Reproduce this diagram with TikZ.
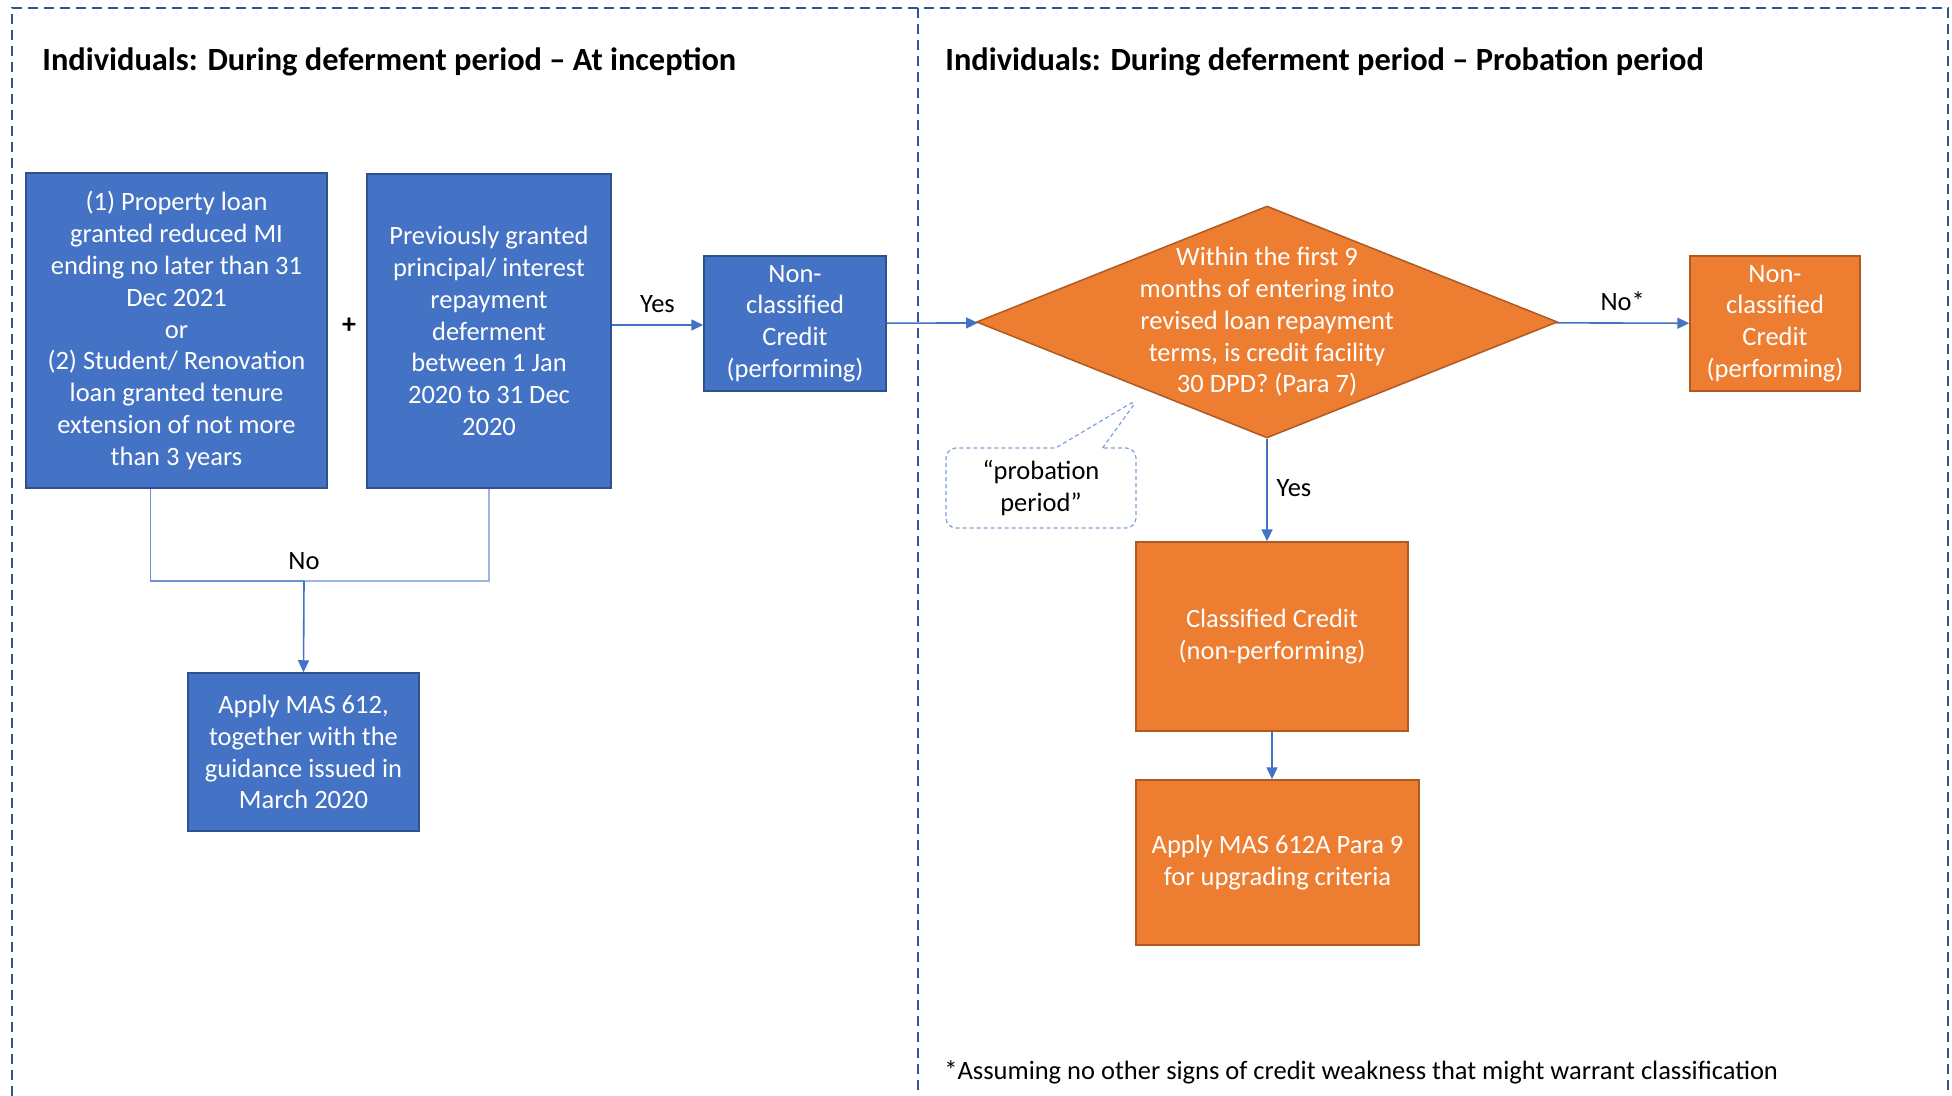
\documentclass[tikz,border=0pt]{standalone}
\usepackage{fontspec}
\setmainfont{Carlito}
\usetikzlibrary{calc,arrows.meta,shapes.geometric,shapes.callouts}

\definecolor{boxblue}{HTML}{4472C4}
\definecolor{boxblueline}{HTML}{2F528F}
\definecolor{boxorange}{HTML}{ED7D31}
\definecolor{boxorangeline}{HTML}{AE5A21}
\definecolor{framecol}{HTML}{2F5597}
\definecolor{midlink}{HTML}{6F91D3}
\definecolor{lightlink}{HTML}{9DB5E2}
\definecolor{calloutcol}{HTML}{7F9FDA}

\begin{document}
\begin{tikzpicture}[x=0.5pt,y=-0.5pt,
                text node/.style={font=\fontsize{13.25}{15.9}\selectfont,align=center,inner sep=0pt,text=black},
                blue node/.style={text node,rectangle,draw=boxblueline,fill=boxblue,text=white,line width=0.75pt},
                orange node/.style={text node,rectangle,draw=boxorangeline,fill=boxorange,text=white,line width=0.75pt},
                title node/.style={font=\fontsize{16.2}{19}\selectfont\bfseries,inner sep=0pt,anchor=west},
                frame line/.style={draw=framecol,line width=0.75pt,dash pattern=on 5pt off 3pt},
                link/.style={color=boxblue,line width=0.8pt,-{Triangle[length=6pt,width=5.5pt]}},
                plain link/.style={line width=0.8pt}]
	\useasboundingbox (0,0) rectangle (1952,1096);

	% dashed frame of the two panels
	\draw[frame line] (12,1096) -- (12,8) -- (1948,8) -- (1948,1096);
	\draw[frame line] (918,8) -- (918,1096);

	\node[title node] (lefttitle) at (42,62) {Individuals: During deferment period – At inception};
	\node[title node] (righttitle) at (945,62) {Individuals: During deferment period – Probation period};

	% left panel
	\node[blue node,minimum width=150.5pt,minimum height=157.5pt] (1) at (176.5,330.5)
		{(1) Property loan\\granted reduced MI\\ending no later than 31\\Dec 2021\\or\\(2) Student/ Renovation\\loan granted tenure\\extension of not more\\than 3 years};
	\node[blue node,minimum width=122pt,minimum height=157pt] (2) at (489,331)
		{Previously granted\\principal/ interest\\repayment\\deferment\\between 1 Jan\\2020 to 31 Dec\\2020};
	\node[text node,font=\fontsize{14}{16}\selectfont\bfseries] (plus) at (349,326) {+};
	\node[blue node,minimum width=91pt,minimum height=67.5pt] (3) at (795,323.5)
		{Non-\\classified\\Credit\\(performing)};
	\node[blue node,minimum width=115.5pt,minimum height=79pt] (7) at (303.5,752)
		{Apply MAS 612,\\together with the\\guidance issued in\\March 2020};
	\coordinate (nojoin) at (304,581);

	% right panel
	\node[orange node,diamond,inner xsep=-25pt,inner ysep=-5pt,aspect=2.5,
		minimum width=290.5pt,minimum height=116pt] (4) at (1267,322)
		{Within the first 9\\months of entering into\\revised loan repayment\\terms, is credit facility\\30 DPD? (Para 7)};
	\node[orange node,minimum width=85pt,minimum height=67.5pt] (5) at (1775,323.5)
		{Non-\\classified\\Credit\\(performing)};
	\node[orange node,minimum width=136pt,minimum height=94.5pt] (6) at (1272,636.5)
		{Classified Credit\\(non-performing)};
	\node[orange node,minimum width=141.5pt,minimum height=82.5pt] (8) at (1277.5,862.5)
		{Apply MAS 612A Para 9\\for upgrading criteria};
	\node[text node,rectangle callout,draw=calloutcol,line width=0.6pt,
		dash pattern=on 2pt off 1.5pt,rounded corners=5pt,
		minimum width=95pt,minimum height=40pt,
		callout absolute pointer={(1138,399)},callout pointer width=23.5pt] (probation) at (1041,488)
		{“probation\\period”};

	\path[link]
	($(2.east |- 3.west)+(0,1.5)$) edge node[text node,above=6pt] (yes1) {Yes} ($(3.west)+(0,1.5)$)
	(3) edge (4)
	(4) edge node[text node,above=6pt] (no2) {No*} (5)
	(4.south) edge ($(4.south |- 6.north)$)
	(6.south) edge ($(6.south |- 8.north)$);

	\draw[plain link,midlink] ($(1.south)+(-26,0)$) |- (nojoin);
	\draw[plain link,lightlink] (2.south) |- (nojoin);
	\draw[link] (nojoin) -- (7.north);
	\node[text node] (no1) at (304,561) {No};
	\node[text node] (yes2) at (1294,488) {Yes};

	\node[text node,anchor=west] (footnote) at (944,1072)
		{*Assuming no other signs of credit weakness that might warrant classification};
\end{tikzpicture}
\end{document}
